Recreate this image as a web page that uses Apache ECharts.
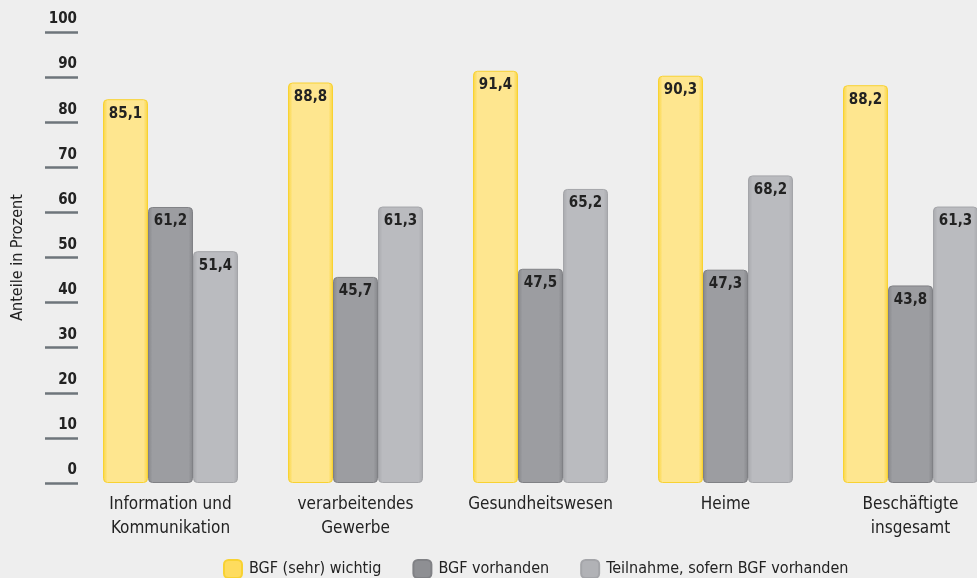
<!DOCTYPE html>
<html>
<head>
<meta charset="utf-8">
<script src="https://cdn.jsdelivr.net/npm/echarts@6/dist/echarts.min.js"></script>
<style>
  html, body { margin: 0; padding: 0; background: #eeeeee; }
  #chart { width: 977px; height: 578px; }
</style>
</head>
<body>
<div id="chart"></div>
<script>
// Branchen (x-axis categories)
const categories = [
  'Information und\nKommunikation',
  'verarbeitendes\nGewerbe',
  'Gesundheitswesen',
  'Heime',
  'Beschäftigte\ninsgesamt'
];

// Anteile in Prozent
const wichtig = [85.1, 88.8, 91.4, 90.3, 88.2];
const vorhanden = [61.2, 45.7, 47.5, 47.3, 43.8];
const teilnahme = [51.4, 61.3, 65.2, 68.2, 61.3];

const seriesNames = ['BGF (sehr) wichtig', 'BGF vorhanden', 'Teilnahme, sofern BGF vorhanden'];
const yTicks = [0, 10, 20, 30, 40, 50, 60, 70, 80, 90, 100];

const FONT = '"Liberation Sans Narrow", "DejaVu Sans Condensed", "Open Sans", sans-serif';

// horizontal shading: darker rim, lighter body
function shade(edge, body) {
  return new echarts.graphic.LinearGradient(0, 0, 1, 0, [
    { offset: 0, color: edge },
    { offset: 0.1, color: body },
    { offset: 0.9, color: body },
    { offset: 1, color: edge }
  ]);
}

const styles = [
  { color: shade('#fbd53a', '#fee68f'), border: '#f8d232', legend: '#fedc5e' },
  { color: shade('#86878b', '#9c9da1'), border: '#808185', legend: '#8e8f93' },
  { color: shade('#a8a9ad', '#babbbf'), border: '#a4a5a9', legend: '#b1b2b6' }
];

const fmt = v => v.toFixed(1).replace('.', ',');

function makeSeries(name, data, st) {
  return {
    name: name,
    type: 'bar',
    data: data,
    barWidth: 45,
    barGap: '0%',
    itemStyle: {
      color: st.color,
      borderColor: st.border,
      borderWidth: 1,
      borderRadius: 4
    },
    label: {
      show: true,
      position: 'insideTop',
      distance: 7,
      formatter: p => fmt(p.value),
      fontFamily: FONT,
      fontWeight: 'bold',
      fontSize: 15,
      color: '#222222'
    }
  };
}

const chart = echarts.init(document.getElementById('chart'), null, { renderer: 'canvas' });

chart.setOption({
  backgroundColor: '#eeeeee',
  animation: false,
  textStyle: { fontFamily: FONT },
  grid: {
    left: 78, top: 32, bottom: 95, width: 925,
    containLabel: false,
    outerBoundsMode: 'none'
  },
  legend: {
    left: 218,
    top: 554,
    itemWidth: 18,
    itemHeight: 18,
    itemGap: 31,
    icon: 'roundRect',
    textStyle: { fontFamily: FONT, fontSize: 16, color: '#222222', padding: [0, 0, 0, 2] },
    data: seriesNames.map((n, i) => ({ name: n, itemStyle: { color: styles[i].legend } }))
  },
  xAxis: {
    type: 'category',
    data: categories,
    axisLine: { show: false },
    axisTick: { show: false },
    axisLabel: {
      margin: 10,
      fontFamily: FONT,
      fontSize: 17,
      lineHeight: 24,
      color: '#222222',
      interval: 0
    }
  },
  yAxis: {
    type: 'value',
    min: yTicks[0],
    max: yTicks[yTicks.length - 1],
    interval: 10,
    name: 'Anteile in Prozent',
    nameLocation: 'middle',
    nameRotate: 90,
    nameGap: 52,
    nameTextStyle: { fontFamily: FONT, fontSize: 16, color: '#222222' },
    axisLine: { show: false },
    axisTick: { show: true, length: 33, lineStyle: { color: '#6e757b', width: 2.5 } },
    splitLine: { show: false },
    axisLabel: {
      margin: 1,
      align: 'right',
      verticalAlign: 'bottom',
      padding: [0, 0, 5, 0],
      fontFamily: FONT,
      fontWeight: 'bold',
      fontSize: 15,
      color: '#222222'
    }
  },
  series: [
    makeSeries(seriesNames[0], wichtig, styles[0]),
    makeSeries(seriesNames[1], vorhanden, styles[1]),
    makeSeries(seriesNames[2], teilnahme, styles[2])
  ]
});
</script>
</body>
</html>
